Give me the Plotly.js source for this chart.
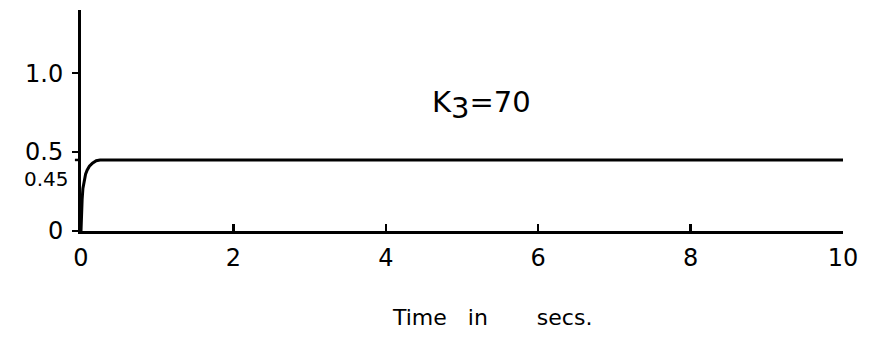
<!DOCTYPE html>
<html>
<head>
<meta charset="utf-8">
<script src="https://cdn.plot.ly/plotly-3.0.1.min.js"></script>
<style>
  html, body { margin: 0; padding: 0; background: #fff; }
  #chart { width: 871px; height: 342px; }
</style>
</head>
<body>
<div id="chart"></div>
<script>
// Step response for K3 = 70: fast rise, then flat at 0.45 out to 10 s
const timeSecs = [0, 0.003, 0.008, 0.015, 0.025, 0.04, 0.06, 0.08, 0.11, 0.15, 0.2, 0.25, 2, 4, 6, 8, 10];
const response = [0, 0.06, 0.13, 0.2, 0.27, 0.32, 0.36, 0.385, 0.41, 0.43, 0.445, 0.45, 0.45, 0.45, 0.45, 0.45, 0.45];

const xTickVals = [0, 2, 4, 6, 8, 10];
const xTickText = ['0', '2', '4', '6', '8', '10'];
const yTickVals = [0, 0.5, 1.0];
const yTickText = ['0', '0.5', '1.0'];
const steadyValue = 0.45;
const steadyLabel = '0.45';
const gainLabel = 'K<sub><span style="font-size:29px">3</span></sub>=70';
const xTitle = 'Time&nbsp;&nbsp;&nbsp;in&nbsp;&nbsp;&nbsp;&nbsp;&nbsp;&nbsp;&nbsp;secs.';

const font = 'DejaVu Sans, Liberation Sans, sans-serif';

const trace = {
  x: timeSecs,
  y: response,
  type: 'scatter',
  mode: 'lines',
  line: { color: '#000', width: 3 },
  hoverinfo: 'skip'
};

const layout = {
  width: 871,
  height: 342,
  margin: { l: 81, r: 28, t: 10, b: 111 },
  paper_bgcolor: '#fff',
  plot_bgcolor: '#fff',
  showlegend: false,
  font: { family: font, color: '#000' },
  xaxis: {
    range: [0, 10],
    showgrid: false,
    zeroline: false,
    showline: true,
    linecolor: '#000',
    linewidth: 3,
    ticks: 'inside',
    ticklen: 7,
    tickwidth: 2.5,
    tickcolor: '#000',
    tickvals: xTickVals,
    ticktext: xTickText,
    ticklabelstandoff: 3,
    tickfont: { size: 24, family: font, color: '#000' },
    fixedrange: true
  },
  yaxis: {
    range: [0, 1.4],
    showgrid: false,
    zeroline: false,
    showline: true,
    linecolor: '#000',
    linewidth: 3,
    ticks: 'outside',
    ticklen: 6,
    tickwidth: 2.5,
    tickcolor: '#000',
    tickvals: yTickVals,
    ticktext: yTickText,
    ticklabelstandoff: 4,
    tickfont: { size: 24, family: font, color: '#000' },
    fixedrange: true
  },
  shapes: [
    {
      // short tick marking the steady-state level
      type: 'line',
      xref: 'paper', yref: 'y',
      x0: -0.008, x1: 0,
      y0: steadyValue, y1: steadyValue,
      line: { color: '#000', width: 2.5 }
    }
  ],
  annotations: [
    {
      text: steadyLabel,
      xref: 'paper', yref: 'y',
      x: 0, y: steadyValue,
      xanchor: 'right', yanchor: 'top',
      xshift: -10, yshift: -5,
      showarrow: false,
      font: { size: 20, family: font, color: '#000' }
    },
    {
      text: gainLabel,
      xref: 'x', yref: 'y',
      x: 5.25, y: 0.8,
      xanchor: 'center', yanchor: 'middle',
      showarrow: false,
      font: { size: 29, family: font, color: '#000' }
    },
    {
      text: xTitle,
      xref: 'paper', yref: 'paper',
      x: 0.54, y: 0,
      xanchor: 'center', yanchor: 'top',
      yshift: -72,
      showarrow: false,
      font: { size: 22, family: font, color: '#000' }
    }
  ]
};

Plotly.newPlot('chart', [trace], layout, { displayModeBar: false, staticPlot: true });
</script>
</body>
</html>
